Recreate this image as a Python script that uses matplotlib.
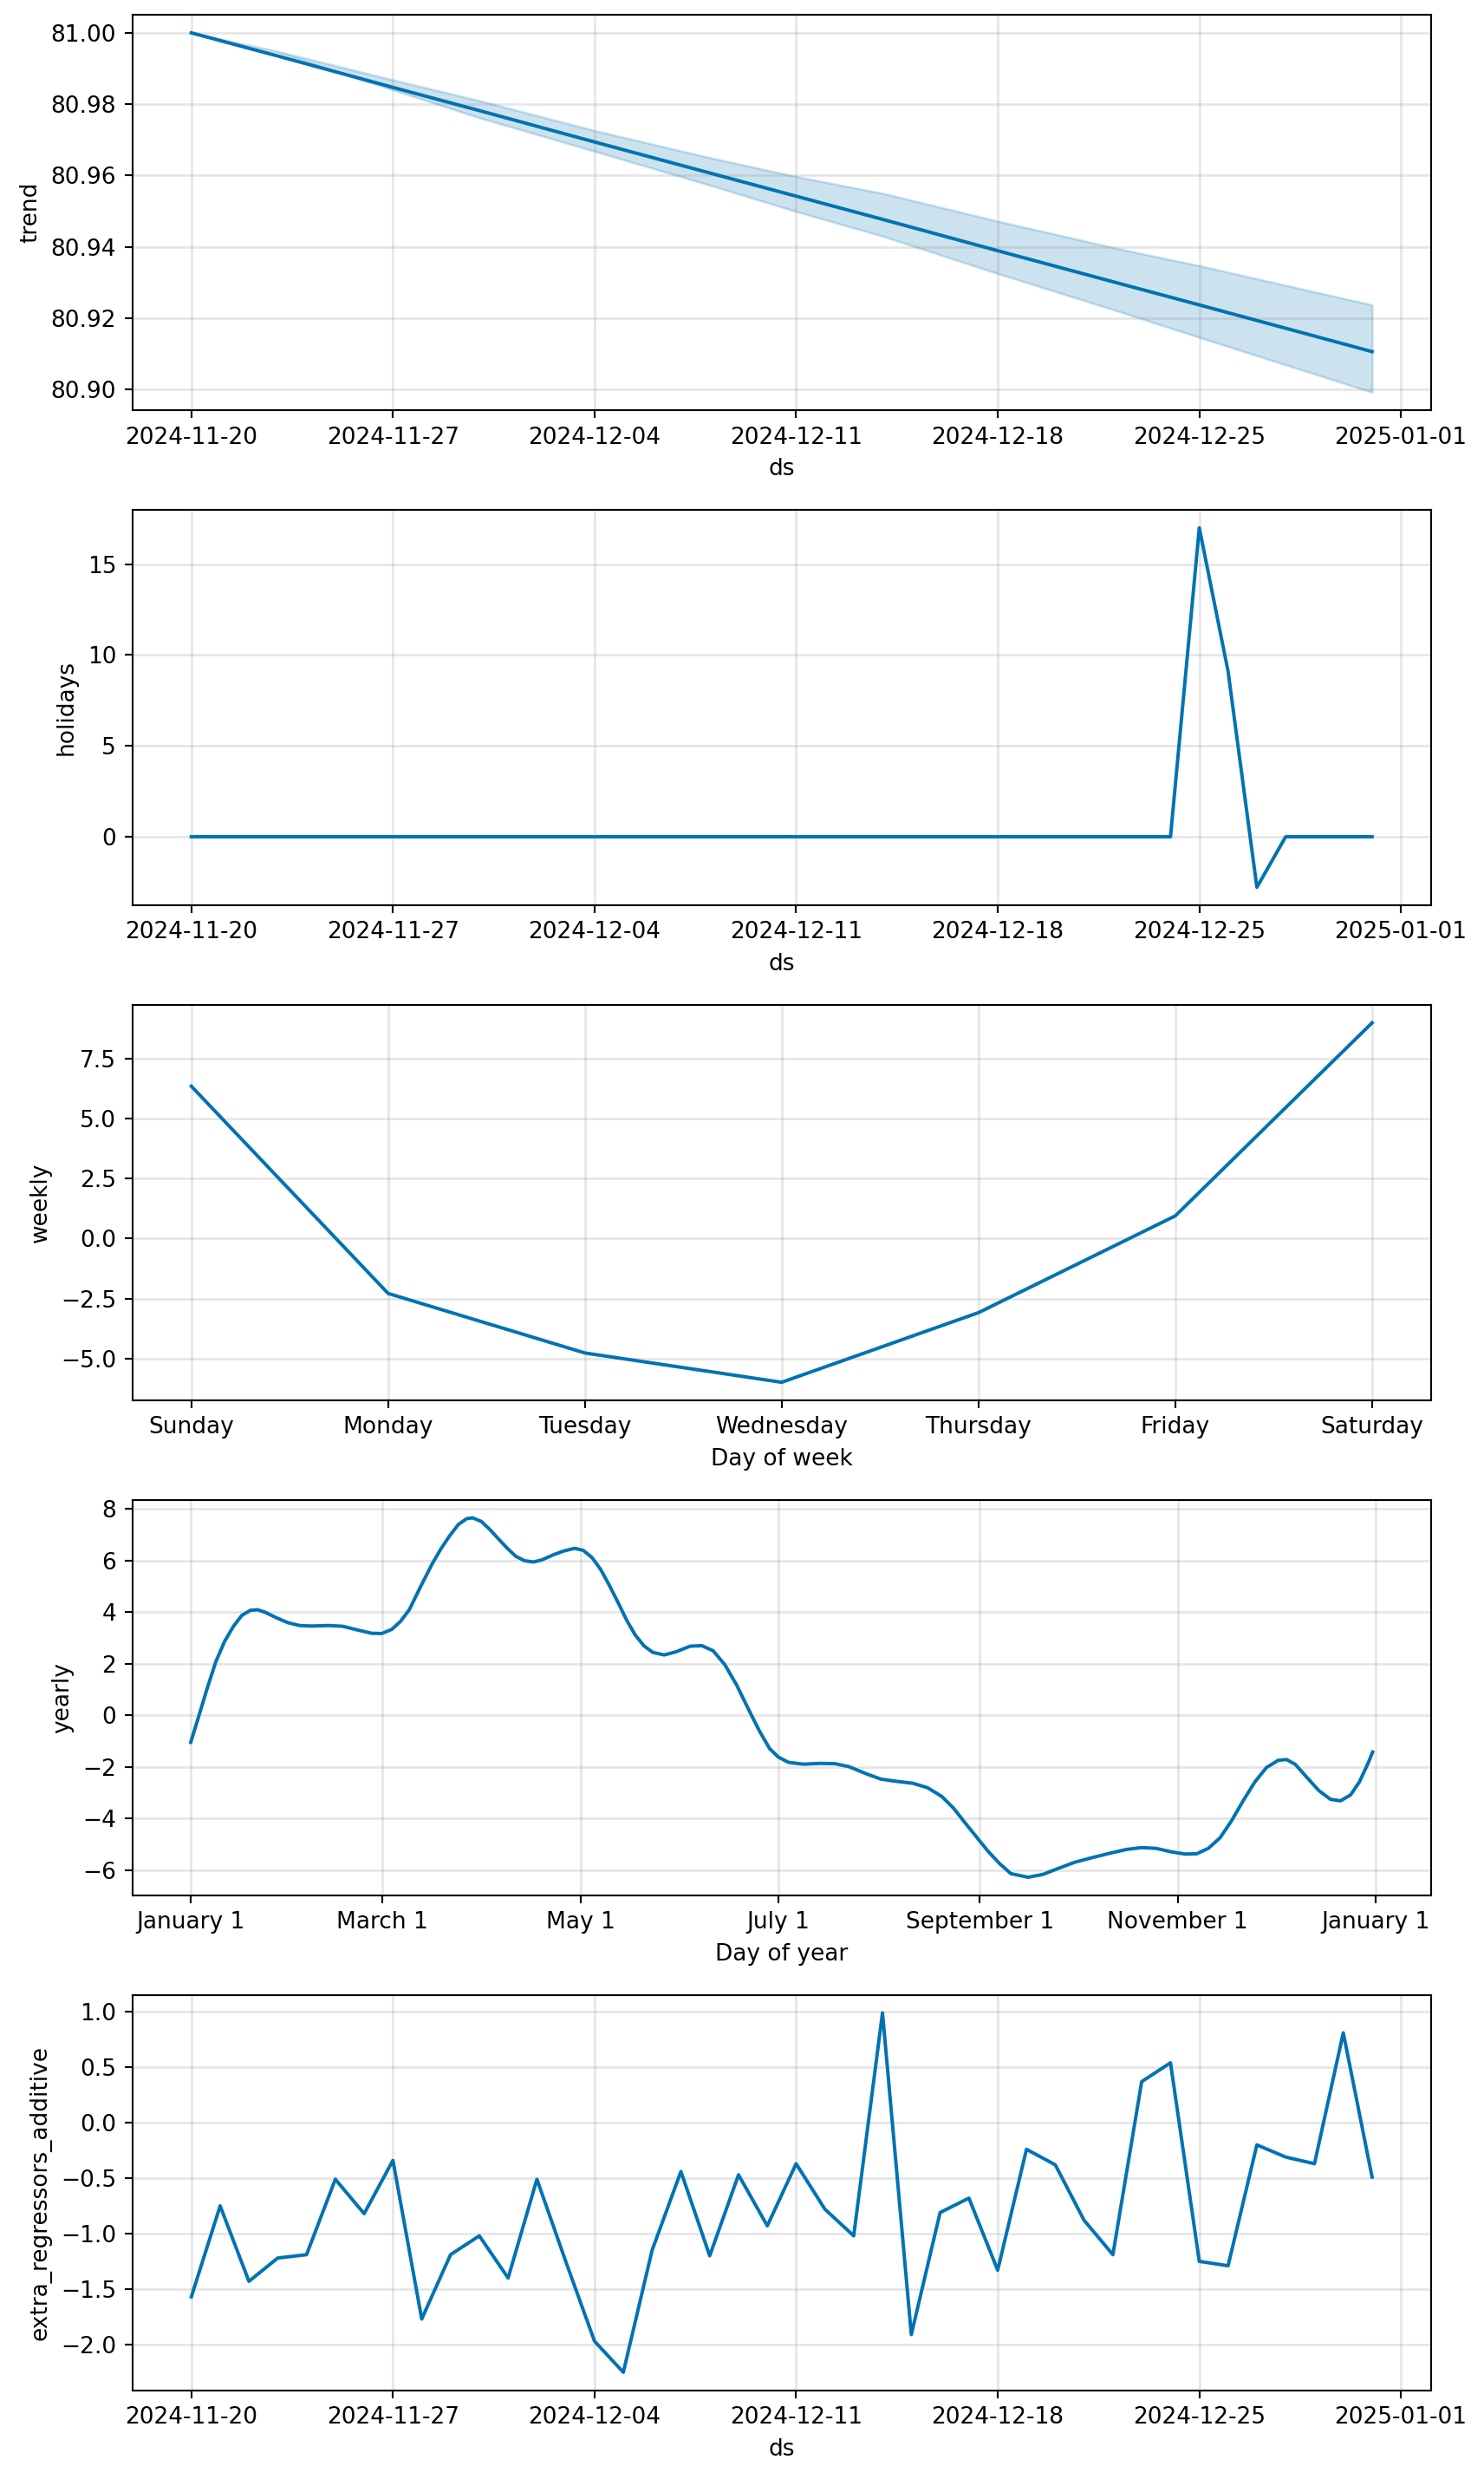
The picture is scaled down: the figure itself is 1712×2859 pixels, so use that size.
#!/usr/bin/env python3
"""Prophet-style components plot: trend, holidays, weekly, yearly, extra regressors."""

import matplotlib

matplotlib.use("Agg")
import matplotlib.pyplot as plt
import pandas as pd
from matplotlib.dates import AutoDateFormatter, AutoDateLocator, MonthLocator, num2date
from matplotlib.ticker import FuncFormatter

LINE_C = "#0072B2"

# daily forecast range
DATES = pd.date_range("2024-11-20", "2024-12-31", freq="D")

# trend with uncertainty, read at a few days since 2024-11-20
TREND_DAY = [0, 3, 7, 10, 14, 18, 21, 24, 28, 32, 35, 41]
TREND = [81.0000, 80.9935, 80.9847, 80.9782, 80.9694, 80.9607, 80.9542, 80.9477, 80.9389, 80.9302, 80.9237, 80.9106]
TREND_UPPER = [81.0000, 80.9948, 80.9868, 80.9810, 80.9726, 80.9650, 80.9597, 80.9550, 80.9472, 80.9398, 80.9347, 80.9237]
TREND_LOWER = [81.0000, 80.9945, 80.9840, 80.9762, 80.9668, 80.9573, 80.9499, 80.9430, 80.9325, 80.9224, 80.9146, 80.8992]

HOLIDAYS = [0.0] * 35 + [17.0, 9.1, -2.78, 0.0, 0.0, 0.0, 0.0]

WEEKDAYS = ["Sunday", "Monday", "Tuesday", "Wednesday", "Thursday", "Friday", "Saturday"]
WEEKLY = [6.34, -2.29, -4.77, -5.99, -3.09, 0.94, 8.98]

# yearly seasonality, day offset from Jan 1
YEARLY_DAY = [0, 2.4, 5.1, 7.7, 10.4, 13.1, 15.7, 18.4, 20.6, 22.8, 26.4, 29.9, 33.5, 37.1,
              42.4, 46.8, 51.3, 55.7, 58.8, 61.9, 64.6, 67.3, 70.8, 74.4, 77.0, 79.7, 82.4,
              85.0, 86.8, 89.5, 92.1, 94.8, 97.5, 100.1, 102.8, 105.5, 108.1, 111.7, 114.7,
              118.2, 120.9, 123.6, 126.2, 128.9, 131.6, 134.2, 136.9, 139.6, 142.3, 145.8,
              149.4, 153.8, 157.4, 160.9, 164.5, 168.1, 171.6, 175.2, 178.3, 181.0, 184.1,
              188.6, 193.9, 198.4, 202.8, 208.2, 212.6, 217.1, 222.4, 226.9, 231.3, 234.9,
              238.4, 242.0, 245.6, 249.1, 252.6, 257.9, 262.4, 266.9, 272.2, 277.6, 283.0,
              288.3, 292.8, 297.3, 301.8, 306.2, 309.8, 313.4, 317.0, 320.5, 324.1, 327.7,
              331.3, 334.9, 337.5, 340.2, 343.8, 347.4, 351.0, 354.1, 357.2, 359.9, 362.6,
              364.0]
YEARLY = [-1.04, -0.06, 1.06, 2.07, 2.86, 3.44, 3.87, 4.07, 4.09, 4.00, 3.78, 3.59, 3.48, 3.46,
          3.48, 3.45, 3.31, 3.18, 3.17, 3.33, 3.64, 4.09, 4.99, 5.88, 6.44, 6.95, 7.39,
          7.62, 7.65, 7.51, 7.20, 6.83, 6.47, 6.16, 5.99, 5.94, 6.02, 6.22, 6.36,
          6.47, 6.39, 6.11, 5.66, 5.04, 4.37, 3.70, 3.11, 2.69, 2.44, 2.34,
          2.46, 2.68, 2.70, 2.50, 1.96, 1.18, 0.28, -0.62, -1.29, -1.62, -1.82,
          -1.89, -1.86, -1.87, -1.99, -2.27, -2.47, -2.55, -2.63, -2.80, -3.14, -3.59,
          -4.15, -4.71, -5.27, -5.74, -6.13, -6.27, -6.16, -5.94, -5.69, -5.51, -5.34,
          -5.19, -5.12, -5.15, -5.28, -5.37, -5.36, -5.15, -4.74, -4.09, -3.31, -2.58,
          -2.02, -1.74, -1.71, -1.90, -2.41, -2.91, -3.25, -3.31, -3.08, -2.58, -1.85,
          -1.42]

EXTRA_REG = [-1.57, -0.75, -1.43, -1.22, -1.19, -0.51, -0.82, -0.34, -1.77, -1.19, -1.02,
             -1.40, -0.51, -1.25, -1.97, -2.25, -1.15, -0.44, -1.20, -0.47, -0.93, -0.37,
             -0.78, -1.02, 0.99, -1.91, -0.81, -0.68, -1.33, -0.24, -0.38, -0.88, -1.19,
             0.37, 0.54, -1.25, -1.29, -0.20, -0.31, -0.37, 0.81, -0.49]


def _date_axis(ax):
    locator = AutoDateLocator(interval_multiples=False)
    ax.xaxis.set_major_locator(locator)
    ax.xaxis.set_major_formatter(AutoDateFormatter(locator))


def _grid(ax):
    ax.grid(True, which="major", c="gray", ls="-", lw=1, alpha=0.2)


def main():
    fig, axes = plt.subplots(5, 1, figsize=(1713 / 190, 2859 / 190), facecolor="w")

    # trend
    ax = axes[0]
    tdates = DATES[0] + pd.to_timedelta(TREND_DAY, unit="D")
    ax.plot(tdates.to_pydatetime(), TREND, ls="-", c=LINE_C)
    ax.fill_between(tdates.to_pydatetime(), TREND_LOWER, TREND_UPPER, color=LINE_C, alpha=0.2)
    _date_axis(ax)
    _grid(ax)
    ax.set_xlabel("ds")
    ax.set_ylabel("trend")

    # holidays
    ax = axes[1]
    ax.plot(DATES.to_pydatetime(), HOLIDAYS, ls="-", c=LINE_C)
    _date_axis(ax)
    _grid(ax)
    ax.set_xlabel("ds")
    ax.set_ylabel("holidays")

    # weekly
    ax = axes[2]
    ax.plot(range(len(WEEKDAYS)), WEEKLY, ls="-", c=LINE_C)
    ax.set_xticks(range(len(WEEKDAYS)))
    ax.set_xticklabels(WEEKDAYS)
    _grid(ax)
    ax.set_xlabel("Day of week")
    ax.set_ylabel("weekly")

    # yearly
    ax = axes[3]
    ydates = pd.Timestamp("2017-01-01") + pd.to_timedelta(YEARLY_DAY, unit="D")
    ax.plot(ydates.to_pydatetime(), YEARLY, ls="-", c=LINE_C)
    ax.xaxis.set_major_locator(MonthLocator(range(1, 13), bymonthday=1, interval=2))
    ax.xaxis.set_major_formatter(
        FuncFormatter(lambda x, pos=None: "{dt:%B} {dt.day}".format(dt=num2date(x)))
    )
    ax.set_xlim(pd.Timestamp("2016-12-14"), pd.Timestamp("2018-01-18"))
    _grid(ax)
    ax.set_xlabel("Day of year")
    ax.set_ylabel("yearly")

    # extra regressors
    ax = axes[4]
    ax.plot(DATES.to_pydatetime(), EXTRA_REG, ls="-", c=LINE_C)
    _date_axis(ax)
    _grid(ax)
    ax.set_xlabel("ds")
    ax.set_ylabel("extra_regressors_additive")

    fig.subplots_adjust(left=0.0891, right=0.9638, top=0.9940, bottom=0.0358, hspace=0.252)
    fig.savefig("out.png", dpi=190)
    plt.close(fig)


if __name__ == "__main__":
    main()
